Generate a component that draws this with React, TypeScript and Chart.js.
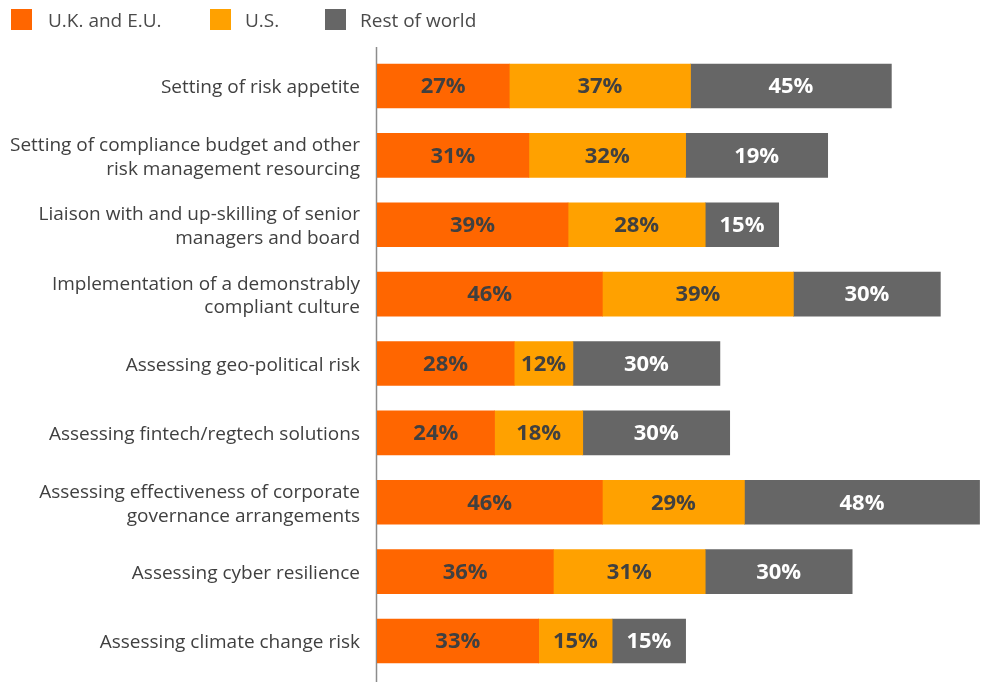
import React, { useEffect, useRef } from "react";
import { Chart, registerables } from "chart.js";

Chart.register(...registerables);

const categories: (string | string[])[] = [
  "Setting of risk appetite",
  ["Setting of compliance budget and other", "risk management resourcing"],
  ["Liaison with and up-skilling of senior", "managers and board"],
  ["Implementation of a demonstrably", "compliant culture"],
  "Assessing geo-political risk",
  "Assessing fintech/regtech solutions",
  ["Assessing effectiveness of corporate", "governance arrangements"],
  "Assessing cyber resilience",
  "Assessing climate change risk",
];

const seriesNames = ["U.K. and E.U.", "U.S.", "Rest of world"];
const seriesColors = ["#FF6600", "#FFA100", "#666666"];
const labelColors = ["#404040", "#404040", "#FFFFFF"];

// bar lengths as drawn
const ukEu = [27, 31, 39, 46, 28, 24, 46, 36, 33];
const us = [37, 32, 28, 39, 12, 18, 29, 31, 15];
const restOfWorld = [41, 29, 15, 30, 30, 30, 48, 30, 15];

// printed labels
const ukEuLabels = ["27%", "31%", "39%", "46%", "28%", "24%", "46%", "36%", "33%"];
const usLabels = ["37%", "32%", "28%", "39%", "12%", "18%", "29%", "31%", "15%"];
const restLabels = ["45%", "19%", "15%", "30%", "30%", "30%", "48%", "30%", "15%"];

const FONT = "'Open Sans', 'Noto Sans', sans-serif";

export default function App() {
  const ref = useRef<HTMLCanvasElement>(null);

  useEffect(() => {
    if (!ref.current) return;
    const allLabels = [ukEuLabels, usLabels, restLabels];

    const axisLine = {
      id: "axisLine",
      beforeDatasetsDraw(chart: any) {
        const ctx = chart.ctx;
        const x = chart.chartArea.left - 0.5;
        ctx.save();
        ctx.strokeStyle = "#8c8c8c";
        ctx.lineWidth = 1.5;
        ctx.beginPath();
        ctx.moveTo(x, 47);
        ctx.lineTo(x, chart.height);
        ctx.stroke();
        ctx.restore();
      },
    };

    const dataLabels = {
      id: "dataLabels",
      afterDatasetsDraw(chart: any) {
        const ctx = chart.ctx;
        ctx.save();
        ctx.font = `bold 22px ${FONT}`;
        ctx.textAlign = "center";
        ctx.textBaseline = "middle";
        chart.data.datasets.forEach((ds: any, di: number) => {
          const meta = chart.getDatasetMeta(di);
          meta.data.forEach((bar: any, i: number) => {
            const cx = (bar.x + bar.base) / 2;
            ctx.fillStyle = labelColors[di];
            ctx.fillText(allLabels[di][i], cx, bar.y + 1);
          });
        });
        ctx.restore();
      },
    };

    const chart = new Chart(ref.current, {
      type: "bar",
      data: {
        labels: categories,
        datasets: [ukEu, us, restOfWorld].map((d, i) => ({
          label: seriesNames[i],
          data: d,
          backgroundColor: seriesColors[i],
          borderWidth: 0,
          barThickness: 44,
        })),
      },
      options: {
        indexAxis: "y",
        animation: false,
        responsive: false,
        maintainAspectRatio: false,
        layout: { padding: { top: 51.3, bottom: 6.3, left: 0, right: 0 } },
        plugins: {
          legend: { display: false },
          tooltip: { enabled: false },
        },
        scales: {
          x: {
            stacked: true,
            min: 0,
            max: 123.5,
            display: false,
          },
          y: {
            stacked: true,
            grid: { display: false, drawTicks: false },
            border: { display: false },
            ticks: {
              color: "#404040",
              padding: 17,
              labelOffset: 2,
              font: { family: FONT, size: 19, lineHeight: 1.26 },
            },
            afterFit(scale: any) {
              scale.width = 377;
              scale.paddingTop = 0;
              scale.paddingBottom = 0;
            },
          },
        },
      },
      plugins: [axisLine, dataLabels],
    });
    return () => chart.destroy();
  }, []);

  const legendItem = (i: number, left: number, textLeft: number) => (
    <React.Fragment key={i}>
      <div
        style={{
          position: "absolute",
          left,
          top: 9,
          width: 21,
          height: 21,
          background: seriesColors[i],
        }}
      />
      <div
        style={{
          position: "absolute",
          left: textLeft,
          top: 7,
          height: 26,
          lineHeight: "26px",
          fontSize: 19,
          fontFamily: FONT,
          color: "#4a4a4a",
          whiteSpace: "nowrap",
        }}
      >
        {seriesNames[i]}
      </div>
    </React.Fragment>
  );

  return (
    <div
      style={{
        position: "fixed",
        left: 0,
        top: 0,
        width: 982,
        height: 682,
        background: "#fff",
        overflow: "hidden",
      }}
    >
      <canvas ref={ref} width={982} height={682} style={{ position: "absolute", left: 0, top: 0 }} />
      {legendItem(0, 11, 48)}
      {legendItem(1, 210, 245)}
      {legendItem(2, 325, 360)}
    </div>
  );
}
